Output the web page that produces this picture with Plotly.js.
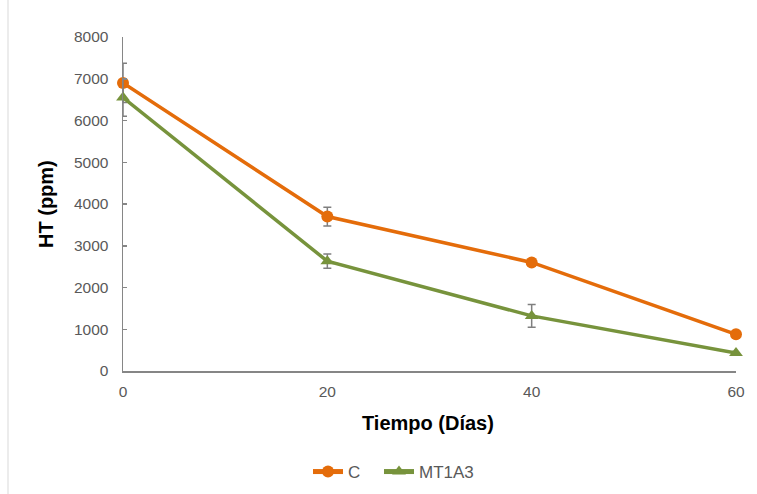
<!DOCTYPE html>
<html>
<head>
<meta charset="utf-8">
<script src="https://cdn.plot.ly/plotly-3.0.1.min.js"></script>
<style>
html,body{margin:0;padding:0;background:#fff;}
#chart{width:757px;height:494px;}
</style>
</head>
<body>
<div id="chart"></div>
<script>
var dias = [0, 20, 40, 60];
var valoresC = [6900, 3700, 2600, 880];
var errorC = [470, 225, 40, 40];
var valoresMT1A3 = [6550, 2630, 1320, 430];
var errorMT1A3 = [450, 170, 270, 40];
var xTicks = [0, 20, 40, 60];
var yTicks = [0, 1000, 2000, 3000, 4000, 5000, 6000, 7000, 8000];

var tickFont = {family: "'Liberation Sans',Arial,sans-serif", size: 15.5, color: '#595959'};
var legendFont = {family: "'Liberation Sans',Arial,sans-serif", size: 17, color: '#595959'};
var titleFont = {family: "'Liberation Sans',Arial,sans-serif", size: 20, color: '#000000'};

var errStyle = {type: 'data', visible: true, thickness: 1.5, width: 4, color: '#7f7f7f'};

var traces = [
  {
    x: dias, y: valoresC, name: 'C', type: 'scatter', mode: 'lines+markers',
    line: {color: '#E46C0A', width: 3.5},
    marker: {symbol: 'circle', size: 12, color: '#E46C0A'},
    error_y: Object.assign({array: errorC}, errStyle),
    cliponaxis: false, legend: 'legend'
  },
  {
    x: dias, y: valoresMT1A3, name: 'MT1A3', type: 'scatter', mode: 'lines+markers',
    line: {color: '#77933C', width: 3.5},
    marker: {symbol: 'triangle-up', size: 12, color: '#77933C'},
    error_y: Object.assign({array: errorMT1A3}, errStyle),
    cliponaxis: false, legend: 'legend2'
  }
];

function legendAt(px) {
  return {
    orientation: 'h', xref: 'container', yref: 'container',
    x: px/757, xanchor: 'left', y: 1 - 472/494, yanchor: 'middle',
    font: legendFont, itemsizing: 'constant', bgcolor: 'rgba(0,0,0,0)'
  };
}

var layout = {
  width: 757, height: 494,
  margin: {l: 123, r: 21, t: 37, b: 123, autoexpand: false},
  paper_bgcolor: '#ffffff', plot_bgcolor: '#ffffff',
  showlegend: true,
  legend: legendAt(308),
  legend2: legendAt(379),
  xaxis: {
    range: [0, 60], tickvals: xTicks, ticktext: xTicks.map(String),
    showgrid: false, zeroline: false, showline: true, linecolor: '#868686', linewidth: 1.5,
    ticks: '', tickfont: tickFont, ticklabelstandoff: 6, fixedrange: true, automargin: false
  },
  yaxis: {
    range: [0, 8000], tickvals: yTicks, ticktext: yTicks.map(String),
    showgrid: false, zeroline: false, showline: true, linecolor: '#868686', linewidth: 1.5,
    ticks: 'inside', ticklen: 4, tickcolor: '#868686', tickwidth: 1.5,
    tickfont: tickFont, ticklabelstandoff: 10, fixedrange: true, automargin: false
  },
  annotations: [
    {text: '<b>Tiempo (Días)</b>', xref: 'paper', yref: 'paper', x: (428-123)/613, y: (371-423)/334,
     xanchor: 'center', yanchor: 'middle', showarrow: false, font: titleFont},
    {text: '<b>HT (ppm)</b>', xref: 'paper', yref: 'paper', x: (46-123)/613, y: (371-204)/334,
     xanchor: 'center', yanchor: 'middle', textangle: -90, showarrow: false, font: titleFont}
  ],
  shapes: [
    {type: 'line', xref: 'paper', yref: 'paper', x0: (8-123)/613, x1: (8-123)/613, y0: -0.4, y1: 1.2,
     line: {color: '#d9d9d9', width: 1}}
  ]
};

Plotly.newPlot('chart', traces, layout, {displayModeBar: false, staticPlot: true});
</script>
</body>
</html>
